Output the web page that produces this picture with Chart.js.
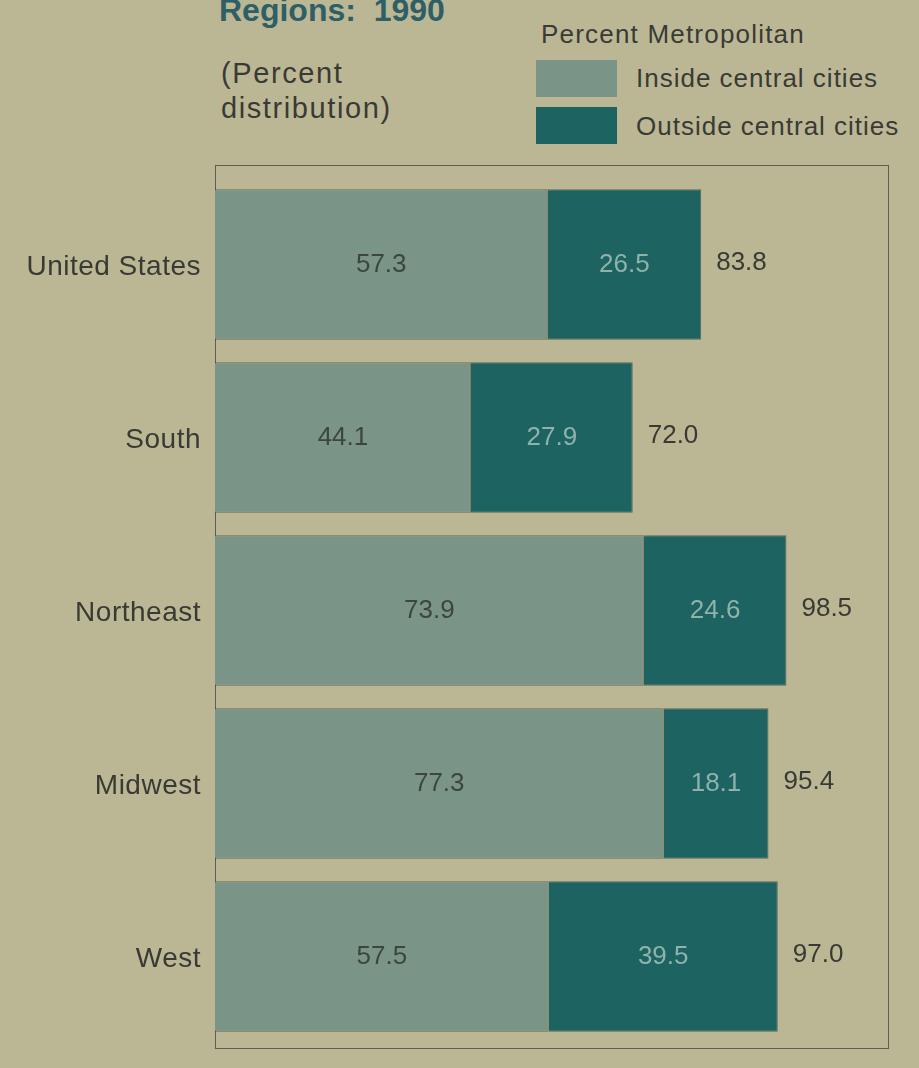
<!DOCTYPE html>
<html lang="en">
<head>
  <meta charset="UTF-8">
  <title>Metropolitan population by region, 1990</title>
  <script src="https://cdn.jsdelivr.net/npm/chart.js@4/dist/chart.umd.min.js"></script>
  <style>
    html, body { margin: 0; padding: 0; }
    body {
      width: 919px; height: 1068px; overflow: hidden; position: relative;
      background: #bbb794;
      font-family: "Liberation Sans", Arial, sans-serif;
      color: #3a3a34;
    }
    #chart { position: absolute; left: 0; top: 0; }
    .txt { position: absolute; white-space: nowrap; line-height: 1; }
    .title { left: 219px; top: -6px; font-size: 32px; font-weight: bold; color: #2e5f66; }
    .sub { left: 221px; top: 56px; font-size: 29px; line-height: 35px; letter-spacing: 1.6px; }
    .legtitle { left: 541px; top: 21px; font-size: 26px; letter-spacing: 1.2px; }
    .swatch { position: absolute; left: 536px; width: 81px; height: 37px; }
    .leg { left: 636px; font-size: 26px; letter-spacing: 1px; }
  </style>
</head>
<body>
  <div class="txt title">Regions:&nbsp; 1990</div>
  <div class="txt sub">(Percent<br>distribution)</div>
  <div class="txt legtitle">Percent Metropolitan</div>
  <div class="swatch" style="top:60px;background:#7b9488"></div>
  <div class="txt leg" style="top:65px">Inside central cities</div>
  <div class="swatch" style="top:107px;background:#1d6361"></div>
  <div class="txt leg" style="top:113px">Outside central cities</div>

  <canvas id="chart" width="919" height="1068"></canvas>

  <script>
    // values
    var regions = ["United States", "South", "Northeast", "Midwest", "West"];
    var insideCities = [57.3, 44.1, 73.9, 77.3, 57.5];
    var outsideCities = [26.5, 27.9, 24.6, 18.1, 39.5];
    var totals = [83.8, 72.0, 98.5, 95.4, 97.0];

    var lightColor = '#7b9488';
    var darkColor = '#1d6361';

    // frame around the bars + region names on the left
    var framePlugin = {
      id: 'frame',
      beforeDatasetsDraw: function(chart) {
        var a = chart.chartArea, ctx = chart.ctx;
        ctx.save();
        ctx.strokeStyle = '#5e5d4e';
        ctx.lineWidth = 1;
        ctx.strokeRect(a.left + 0.5, a.top - 12.5, a.right - a.left, a.bottom - a.top + 18);
        ctx.restore();
      },
      afterDatasetsDraw: function(chart) {
        var ctx = chart.ctx;
        var yScale = chart.scales.y;
        ctx.save();
        ctx.font = '28px "Liberation Sans", Arial, sans-serif';
        ctx.letterSpacing = '0.5px';
        ctx.fillStyle = '#3a3a34';
        ctx.textAlign = 'right';
        ctx.textBaseline = 'middle';
        regions.forEach(function(r, i) {
          ctx.fillText(r, 201, yScale.getPixelForValue(i) + 3);
        });

        // numbers in and after the bars
        ctx.font = '26px "Liberation Sans", Arial, sans-serif';
        ctx.letterSpacing = '0px';
        ctx.textAlign = 'center';
        chart.data.datasets.forEach(function(ds, di) {
          var meta = chart.getDatasetMeta(di);
          meta.data.forEach(function(bar, i) {
            var p = bar.getProps(['x', 'base', 'y'], true);
            ctx.fillStyle = di === 0 ? '#3c463f' : '#8fb2aa';
            ctx.fillText(ds.data[i].toFixed(1), (p.x + p.base) / 2, p.y);
          });
        });
        var last = chart.getDatasetMeta(chart.data.datasets.length - 1);
        ctx.textAlign = 'left';
        ctx.fillStyle = '#3a3a34';
        last.data.forEach(function(bar, i) {
          var p = bar.getProps(['x', 'y'], true);
          ctx.fillText(totals[i].toFixed(1), p.x + 15, p.y - 2);
        });
        ctx.restore();
      }
    };

    var ctx = document.getElementById('chart').getContext('2d');
    var chart = new Chart(ctx, {
      type: 'bar',
      data: {
        labels: regions,
        datasets: [{
          label: 'Inside central cities',
          data: insideCities,
          backgroundColor: lightColor,
          borderColor: 'rgba(45,55,48,0.6)',
          borderWidth: 1,
          categoryPercentage: 1,
          barPercentage: 0.87
        }, {
          label: 'Outside central cities',
          data: outsideCities,
          backgroundColor: darkColor,
          borderColor: 'rgba(30,45,40,0.6)',
          borderWidth: 1,
          categoryPercentage: 1,
          barPercentage: 0.87
        }]
      },
      options: {
        indexAxis: 'y',
        responsive: false,
        animation: false,
        layout: { padding: { left: 215, right: 31, top: 178, bottom: 25 } },
        plugins: { legend: { display: false }, tooltip: { enabled: false } },
        scales: {
          x: { stacked: true, min: 0, max: 116, display: false },
          y: { stacked: true, display: false }
        }
      },
      plugins: [framePlugin]
    });
  </script>
</body>
</html>
